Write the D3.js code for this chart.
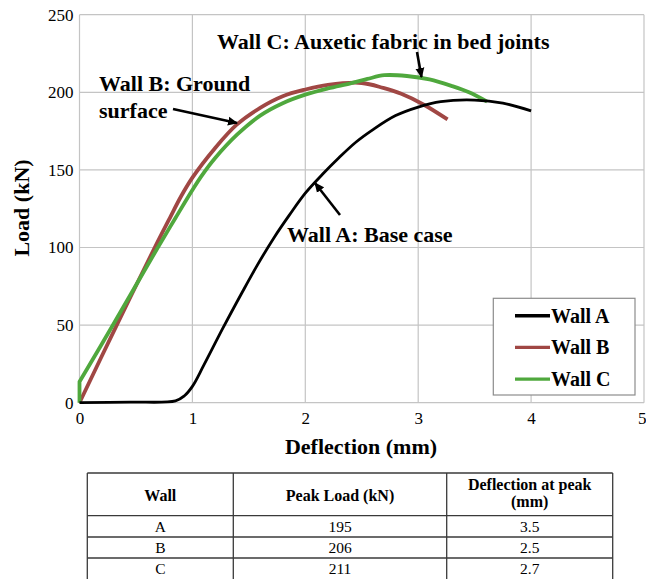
<!DOCTYPE html>
<html>
<head>
<meta charset="utf-8">
<script src="https://cdn.jsdelivr.net/npm/d3@7/dist/d3.min.js"></script>
<style>
  html, body { margin: 0; padding: 0; background: #fff; }
  svg { display: block; }
  text { font-family: "Liberation Serif", "Times New Roman", Times, serif; fill: #000; }
</style>
</head>
<body>
<svg id="chart" width="646" height="579"></svg>
<script>
// Load–deflection curves, [deflection (mm), load (kN)]
const wallA = [[0,0],[0.45,0.4],[0.85,1.2],[0.93,4.5],[1.0,10.5],[1.1,24],[1.27,48],[1.44,71],[1.57,88],
  [1.72,106],[1.86,121],[2.0,135],[2.15,147],[2.3,158],[2.45,168],[2.6,176],[2.8,185],[3.0,190.5],
  [3.2,194],[3.5,195],[3.75,193],[4.0,188]];
const wallB = [[0,0],[0.33,50],[0.66,99],[0.8,119],[0.9,133],[1.0,145],[1.2,164],[1.39,179],[1.6,190],
  [1.8,197.5],[2.0,201.8],[2.2,204.8],[2.5,206],[2.69,202.8],[2.85,199],[3.05,192],[3.26,182.5]];
const wallC = [[0,0],[0,13.5],[0.3,50.5],[0.69,99.5],[0.85,119],[1.0,137],[1.08,146],[1.2,157.5],[1.4,173],
  [1.6,185],[1.8,193],[2.0,198.5],[2.2,202.5],[2.4,205.8],[2.55,208.6],[2.7,211],[2.9,210.5],[3.1,208.3],
  [3.3,204],[3.45,200],[3.61,194]];

const seriesNames = ["Wall A", "Wall B", "Wall C"];
const seriesColors = ["#000000", "#A04744", "#4FA83D"];

const deflectionTicks = [0, 1, 2, 3, 4, 5];
const loadTicks = [0, 50, 100, 150, 200, 250];

// Summary table
const tableHeaders = ["Wall", "Peak Load (kN)", ["Deflection at peak", "(mm)"]];
const tableWalls = ["A", "B", "C"];
const peakLoads = [195, 206, 211];
const peakDeflections = [3.5, 2.5, 2.7];

const svg = d3.select("#chart");

const x = d3.scaleLinear().domain([0, 5]).range([79.5, 644]);
const y = d3.scaleLinear().domain([0, 250]).range([402.7, 14.7]);

// grid + frame
const grid = svg.append("g").attr("stroke", "#c4c4c4").attr("stroke-width", 1.2);
grid.selectAll("line.v").data(deflectionTicks).join("line")
  .attr("x1", d => x(d)).attr("x2", d => x(d))
  .attr("y1", y(0)).attr("y2", y(250));
grid.selectAll("line.h").data(loadTicks).join("line")
  .attr("x1", x(0)).attr("x2", x(5))
  .attr("y1", d => y(d)).attr("y2", d => y(d));

// axes (labels only, lines come from the grid)
const yAxis = d3.axisLeft(y).tickValues(loadTicks).tickFormat(d3.format("d")).tickSize(0).tickPadding(6);
const xAxis = d3.axisBottom(x).tickValues(deflectionTicks).tickFormat(d3.format("d")).tickSize(0).tickPadding(9);
const gy = svg.append("g").attr("transform", `translate(${x(0)},0)`).call(yAxis);
const gx = svg.append("g").attr("transform", `translate(0,${y(0)})`).call(xAxis);
[gx, gy].forEach(g => {
  g.select(".domain").remove();
  g.selectAll("text").attr("font-family", "Liberation Serif, Times New Roman, serif")
    .attr("font-size", 17).attr("fill", "#000");
});
// keep the last deflection label inside the page edge
gx.selectAll(".tick").filter(d => d === 5).select("text").attr("text-anchor", "end").attr("dx", 2);

svg.append("text").attr("x", 361).attr("y", 454).attr("text-anchor", "middle")
  .attr("font-size", 22).attr("font-weight", "bold").text("Deflection (mm)");
svg.append("text").attr("transform", "translate(29,208) rotate(-90)").attr("text-anchor", "middle")
  .attr("font-size", 22).attr("font-weight", "bold").text("Load (kN)");

// curves
const lineSmooth = d3.line().x(d => x(d[0])).y(d => y(d[1])).curve(d3.curveCatmullRom.alpha(0.5));
const lineStraight = d3.line().x(d => x(d[0])).y(d => y(d[1]));
function curvePath(pts) {
  // a vertical jump at the start is drawn straight, the rest smoothly
  if (pts.length > 2 && pts[0][0] === pts[1][0]) {
    return lineStraight(pts.slice(0, 2)) + lineSmooth(pts.slice(1)).replace(/^M/, "L");
  }
  return lineSmooth(pts);
}
const curves = [
  { data: wallB, color: seriesColors[1], w: 3.8 },
  { data: wallC, color: seriesColors[2], w: 3.8 },
  { data: wallA, color: seriesColors[0], w: 2.8 }
];
svg.append("g").selectAll("path").data(curves).join("path")
  .attr("d", d => curvePath(d.data))
  .attr("fill", "none").attr("stroke", d => d.color).attr("stroke-width", d => d.w)
  .attr("stroke-linejoin", "round");

// annotations
svg.append("defs").append("marker").attr("id", "arrow")
  .attr("viewBox", "0 0 10 10").attr("refX", 9).attr("refY", 5)
  .attr("markerWidth", 10).attr("markerHeight", 10).attr("markerUnits", "userSpaceOnUse")
  .attr("orient", "auto")
  .append("path").attr("d", "M0,0.5 L10,5 L0,9.5 Z").attr("fill", "#000");

const notes = svg.append("g").attr("font-size", 22).attr("font-weight", "bold");
notes.append("text").attr("x", 217).attr("y", 48.5).text("Wall C: Auxetic fabric in bed joints");
notes.append("text").attr("x", 99).attr("y", 90.5).text("Wall B: Ground");
notes.append("text").attr("x", 99).attr("y", 117.5).text("surface");
notes.append("text").attr("x", 287).attr("y", 241.5).text("Wall A: Base case");

const arrows = [
  [[417, 52], [421.5, 77]],
  [[173, 109], [237, 123]],
  [[340, 215], [315, 183]]
];
svg.append("g").selectAll("line").data(arrows).join("line")
  .attr("x1", d => d[0][0]).attr("y1", d => d[0][1])
  .attr("x2", d => d[1][0]).attr("y2", d => d[1][1])
  .attr("stroke", "#000").attr("stroke-width", 2.6)
  .attr("marker-end", "url(#arrow)");

// legend
const legend = svg.append("g");
legend.append("rect").attr("x", 493.3).attr("y", 298.3).attr("width", 141.7).attr("height", 96.7)
  .attr("fill", "#fff").attr("stroke", "#8c8c8c").attr("stroke-width", 1.2);
const legendRows = legend.selectAll("g.row").data(seriesNames).join("g")
  .attr("transform", (d, i) => `translate(0,${315.7 + i * 31.7})`);
legendRows.append("line").attr("x1", 515).attr("x2", 550).attr("y1", 0).attr("y2", 0)
  .attr("stroke", (d, i) => seriesColors[i]).attr("stroke-width", 3.4);
legendRows.append("text").attr("x", 551).attr("y", 7).attr("font-size", 20).attr("font-weight", "bold")
  .text(d => d);

// table
const colX = [87.3, 233.3, 446.7, 612.7];
const rowY = [473, 515.7, 537, 558, 579];
const table = svg.append("g");
const tl = table.append("g").attr("stroke", "#3a3a3a").attr("stroke-width", 1.3);
tl.selectAll("line.h").data(rowY.slice(0, 4)).join("line")
  .attr("x1", colX[0]).attr("x2", colX[3]).attr("y1", d => d).attr("y2", d => d);
tl.selectAll("line.v").data(colX).join("line")
  .attr("x1", d => d).attr("x2", d => d).attr("y1", rowY[0]).attr("y2", rowY[4]);

const colMid = [0, 1, 2].map(i => (colX[i] + colX[i + 1]) / 2);
const head = table.append("g").attr("font-size", 16).attr("font-weight", "bold").attr("text-anchor", "middle");
tableHeaders.forEach((h, i) => {
  const t = head.append("text").attr("x", colMid[i]);
  if (Array.isArray(h)) {
    t.attr("y", 490);
    h.forEach((ln, j) => t.append("tspan").attr("x", colMid[i]).attr("dy", j ? 17 : 0).text(ln));
  } else {
    t.attr("y", 500.5).text(h);
  }
});
const rowsData = tableWalls.map((w, i) => [w, String(peakLoads[i]), peakDeflections[i].toFixed(1)]);
const body = table.append("g").attr("font-size", 15.5).attr("text-anchor", "middle");
rowsData.forEach((r, ri) => {
  const cy = (rowY[ri + 1] + rowY[ri + 2]) / 2;
  r.forEach((v, ci) => {
    body.append("text").attr("x", colMid[ci]).attr("y", cy + 5.3).text(v);
  });
});
</script>
</body>
</html>
